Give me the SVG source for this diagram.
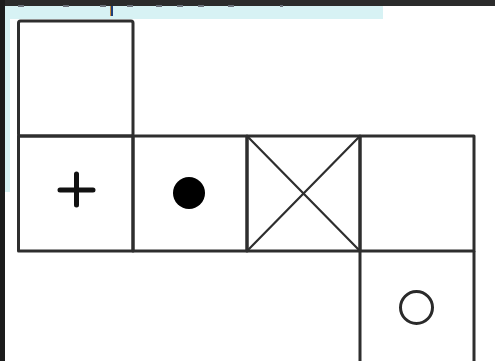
<svg xmlns="http://www.w3.org/2000/svg" width="495" height="361" viewBox="0 0 495 361">
<style>
.cell{fill:none;stroke:#2e2e2e;stroke-width:3;stroke-linejoin:round}
.diag{stroke:#2e2e2e;stroke-width:2.2}
.mark{fill:#6a7078}
</style>
<rect x="0" y="0" width="495" height="361" fill="#ffffff"/>
<rect x="0" y="0" width="495" height="6" fill="#2b2b2b"/>
<rect x="0" y="0" width="5" height="361" fill="#1c1c1c"/>
<rect x="5" y="6" width="378" height="13" fill="#d7f2f4"/>
<rect x="5" y="19" width="5" height="173" fill="#d7f2f4"/>
<g id="ticks">
<rect class="mark" x="18" y="5" width="6" height="2"/>
<rect class="mark" x="63" y="5" width="6" height="2"/>
<rect class="mark" x="100" y="5" width="6" height="2"/>
<rect class="mark" x="127" y="5" width="6" height="2"/>
<rect class="mark" x="156" y="5" width="6" height="2"/>
<rect class="mark" x="177" y="5" width="6" height="2"/>
<rect class="mark" x="198" y="5" width="6" height="2"/>
<rect class="mark" x="228" y="5" width="6" height="2"/>
<rect class="mark" x="280" y="5" width="3" height="2"/>
<rect x="110" y="6" width="1" height="10" fill="#c98a3a"/>
<rect x="111" y="6" width="2" height="10" fill="#1f3f7a"/>
</g>
<g id="cell-top"><rect class="cell" x="18.5" y="21" width="114.5" height="115" rx="2"/></g>
<g id="cell-plus">
<rect class="cell" x="18.5" y="136" width="114.5" height="115"/>
<path d="M60 190H93M76.5 174V205" stroke="#111" stroke-width="5" stroke-linecap="round"/>
</g>
<g id="cell-dot">
<rect class="cell" x="133" y="136" width="114" height="115"/>
<circle cx="189" cy="193" r="16" fill="#000"/>
</g>
<g id="cell-x">
<rect class="cell" x="247" y="136" width="113" height="115"/>
<path class="diag" d="M248 137L359 250M359 137L248 250"/>
</g>
<g id="cell-right"><rect class="cell" x="360" y="136" width="114" height="115"/></g>
<g id="cell-bottom">
<path class="cell" d="M360 251V362M474 251V362"/>
<circle cx="416.5" cy="307.5" r="16" fill="none" stroke="#2a2a2a" stroke-width="3"/>
</g>
<g id="connectors"></g>
</svg>
